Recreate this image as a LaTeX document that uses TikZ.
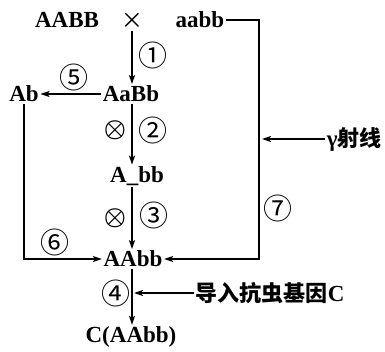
\documentclass[tikz,border=0pt]{standalone}
\usepackage{fontspec}
\setmainfont{Liberation Serif}
\newfontfamily\cjk{Noto Sans CJK SC}
\usetikzlibrary{positioning,arrows.meta}

\begin{document}
\begin{tikzpicture}[x=1pt,y=-1pt,>={Stealth[length=9pt,width=6pt,inset=2pt]},line width=1.5pt,
    font=\fontsize{23}{27}\selectfont\bfseries]
    \tikzstyle{every node}+=[inner sep=1pt]
    \tikzstyle{num}=[font=\fontsize{29}{33}\selectfont\cjk]
    \tikzstyle{selfed}=[font=\fontsize{24}{28}\selectfont\boldmath]
    \useasboundingbox (0,0) rectangle (385,351);
    % parents
    \node (pA) at (67,20) {AABB};
    \node [selfed] (cross) at (132,20) {$\times$};
    \node (pa) at (200,20) {aabb};
    % offspring
    \node (f1) at (131,94) {AaBb};
    \node (hap) at (24,94) {Ab};
    \node (f2) at (137,176) {A\_bb};
    \node (f3) at (133,259) {AAbb};
    \node (f4) at (131,337) {C(AAbb)};
    % side texts
    \node [anchor=west] (gamma) at (325,139) {γ{\cjk\fontsize{22}{26}\selectfont 射线}};
    \node [anchor=west] (gene) at (194,293) {{\cjk\fontsize{22}{26}\selectfont 导入抗虫基因}C};
    % corners
    \coordinate (r1) at (259,20);
    \coordinate (r2) at (259,259);
    \coordinate (g1) at (262,139);
    \coordinate (c1) at (134,293);
    % arrows
    \draw [->] (cross.south) -- (cross.south |- f1.north);
    \draw [->] (f1.south -| cross) -- (f2.north -| cross);
    \draw [->] (f2.south -| cross) -- (f3.north -| cross);
    \draw [->] (f3.south -| cross) -- (f4.north -| cross);
    \draw [->] (f1.west) -- (hap.east);
    \draw [->] (hap.south) -- (hap.south |- f3.west) -- (f3.west);
    \draw [->] (pa.east) -- (r1) -- (r2) -- (f3.east);
    \draw [->] (gamma.west) -- (g1);
    \draw [->] (gene.west) -- (c1);
    % step labels
    \node [num] at (153,55) {①};
    \node [selfed] at (115,130) {$\otimes$};
    \node [num] at (153,130) {②};
    \node [selfed] at (115,218) {$\otimes$};
    \node [num] at (154,215) {③};
    \node [num] at (116,293) {④};
    \node [num] at (74,77) {⑤};
    \node [num] at (55,242) {⑥};
    \node [num] at (278,208) {⑦};
\end{tikzpicture}
\end{document}
